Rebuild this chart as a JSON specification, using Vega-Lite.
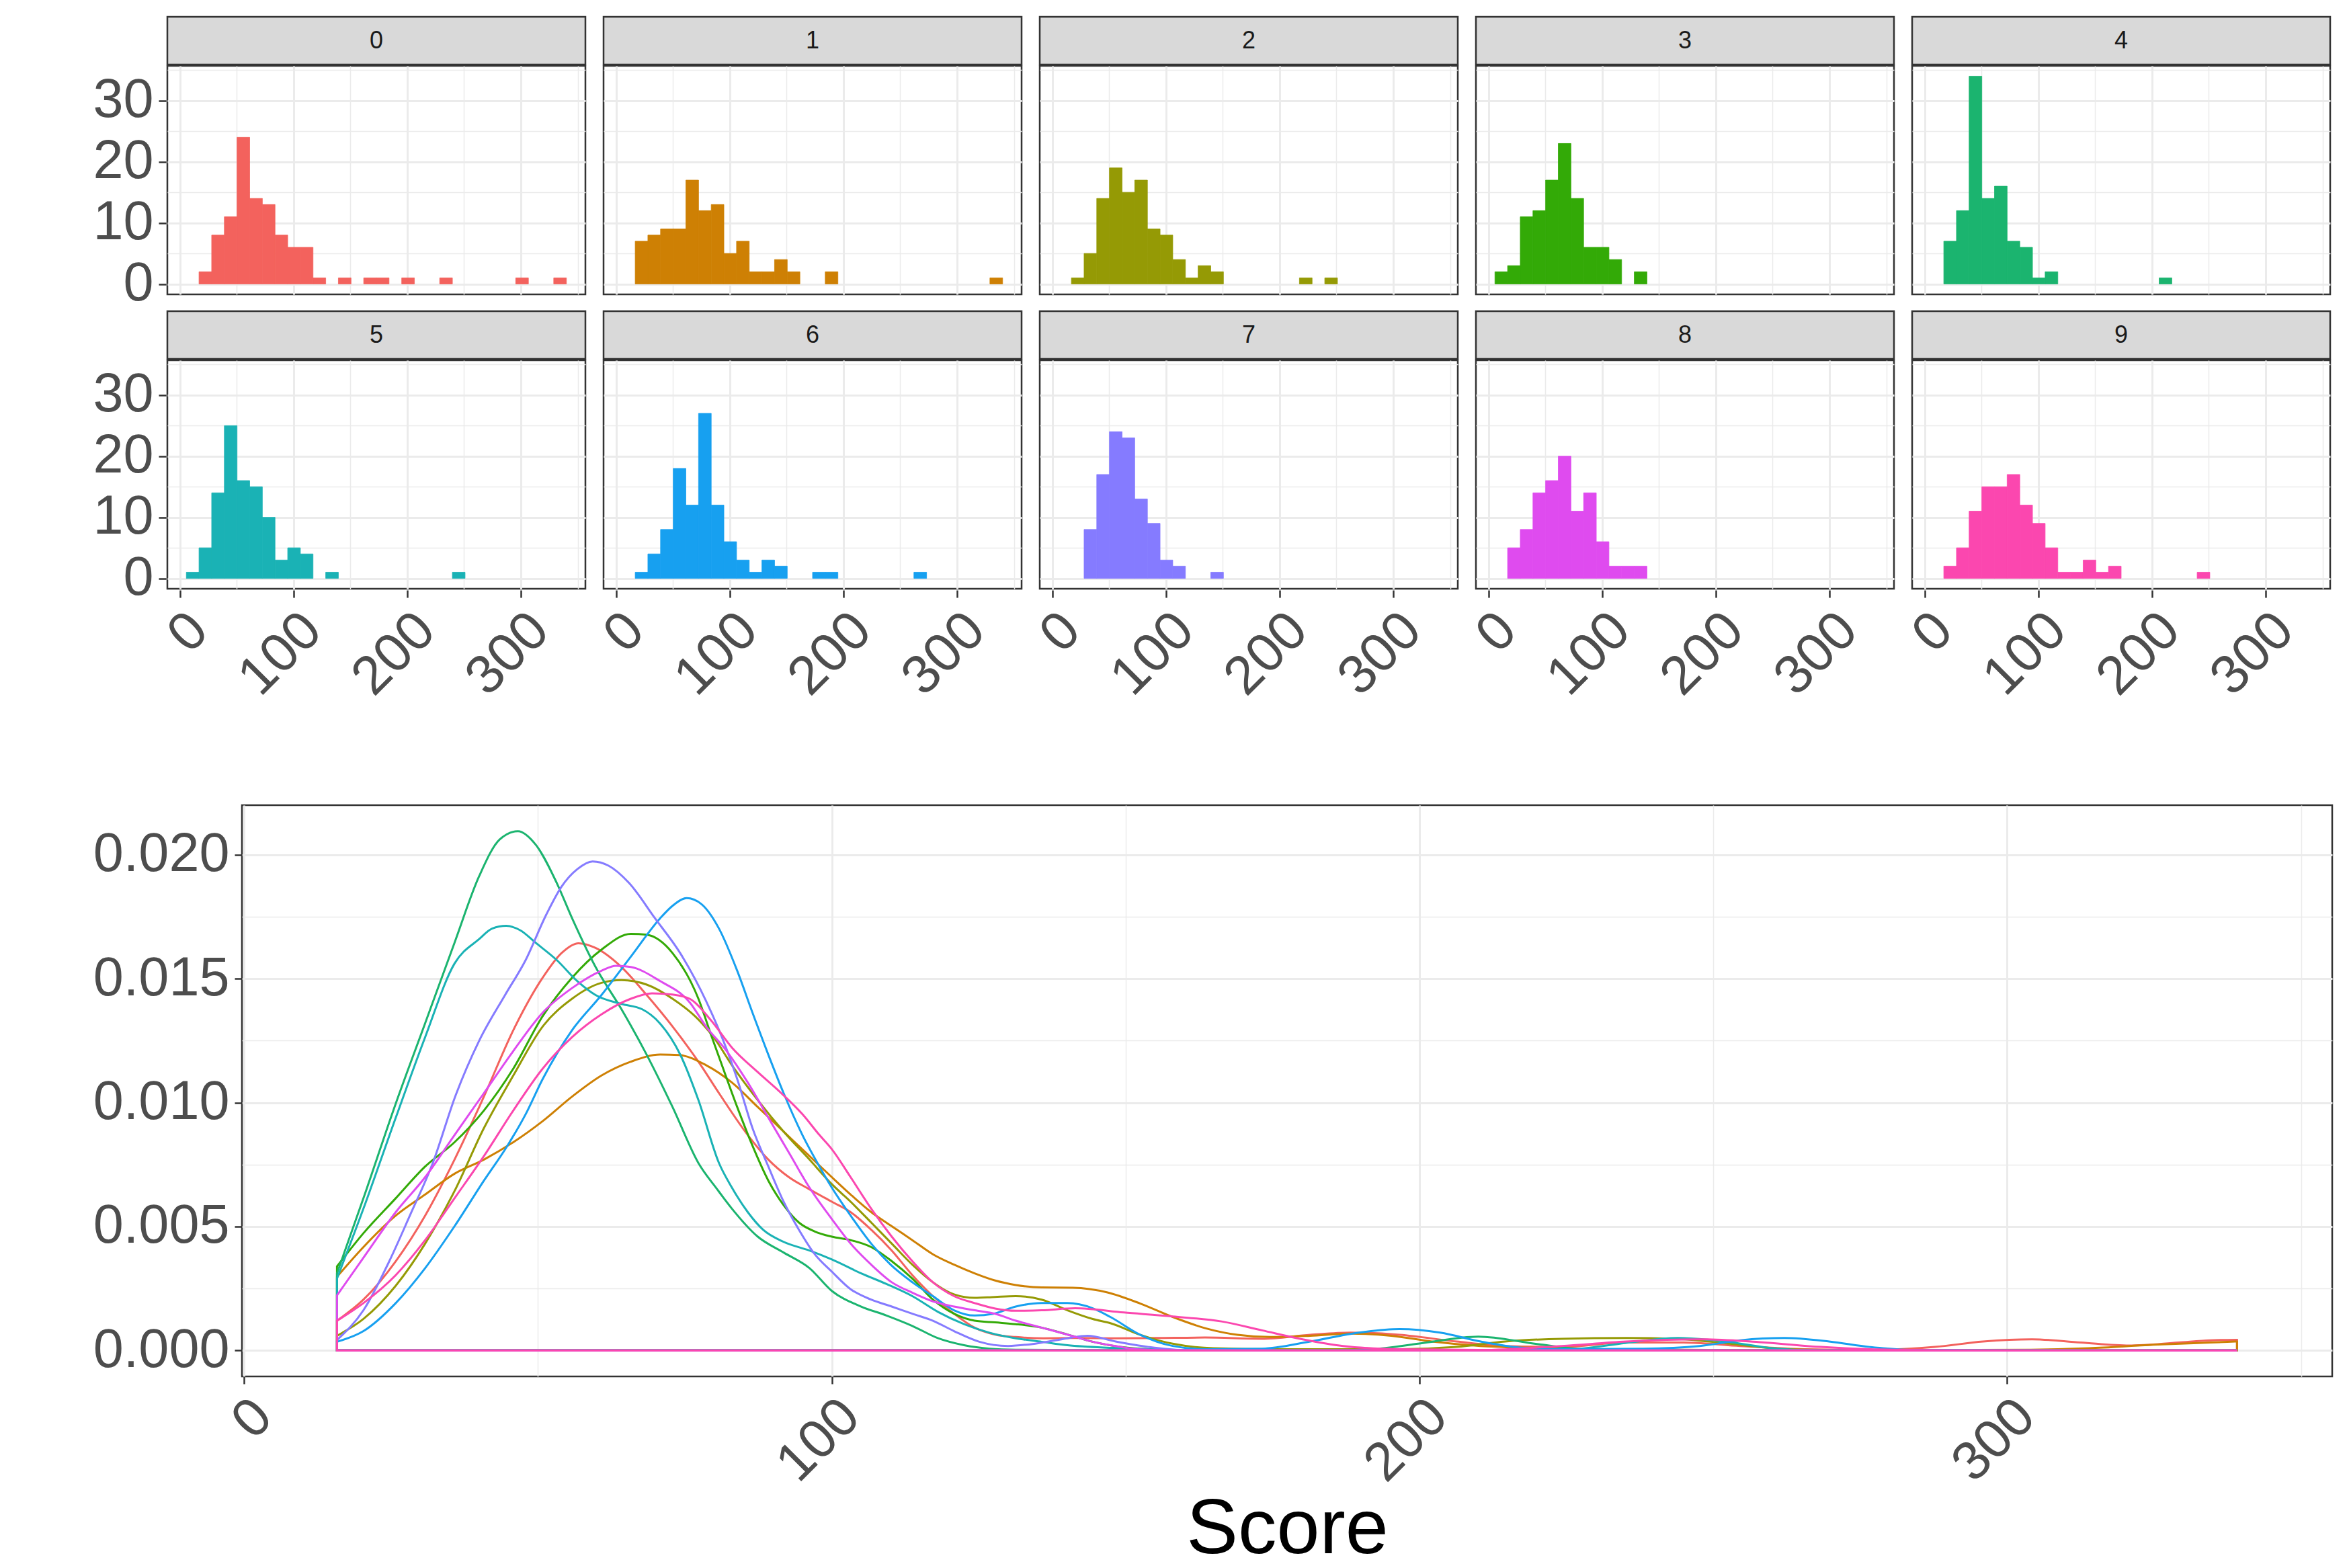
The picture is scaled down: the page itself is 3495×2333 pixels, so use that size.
{
  "$schema": "https://vega.github.io/schema/vega-lite/v6.json",
  "autosize": {"type": "pad"},
  "padding": {"left": 136, "top": 23, "right": 10, "bottom": 0},
  "background": "white",
  "config": {
    "font": "Liberation Sans",
    "view": {"stroke": "#333333", "strokeWidth": 2.5},
    "axis": {
      "domain": false,
      "gridColor": "#EBEBEB",
      "labelColor": "#4D4D4D",
      "labelFont": "Liberation Sans",
      "labelFontSize": 81,
      "labelPadding": 8,
      "labelLimit": 0,
      "labelOverlap": false,
      "labelFlush": false,
      "tickColor": "#333333",
      "tickSize": 11,
      "tickWidth": 2.5
    }
  },
  "datasets": {
    "panels": [{"g": 0}, {"g": 1}, {"g": 2}, {"g": 3}, {"g": 4}, {"g": 5}, {"g": 6}, {"g": 7}, {"g": 8}, {"g": 9}],
    "hist": [
      {"g": 0, "s": 16.72, "e": 27.87, "n": 2}, {"g": 0, "s": 27.87, "e": 39.02, "n": 8}, {"g": 0, "s": 39.02, "e": 50.17, "n": 11},
      {"g": 0, "s": 50.17, "e": 61.32, "n": 24}, {"g": 0, "s": 61.32, "e": 72.47, "n": 14}, {"g": 0, "s": 72.47, "e": 83.62, "n": 13},
      {"g": 0, "s": 83.62, "e": 94.77, "n": 8}, {"g": 0, "s": 94.77, "e": 105.92, "n": 6}, {"g": 0, "s": 105.92, "e": 117.07, "n": 6},
      {"g": 0, "s": 117.07, "e": 128.22, "n": 1}, {"g": 0, "s": 139.37, "e": 150.52, "n": 1}, {"g": 0, "s": 161.67, "e": 172.82, "n": 1},
      {"g": 0, "s": 172.82, "e": 183.97, "n": 1}, {"g": 0, "s": 195.12, "e": 206.27, "n": 1}, {"g": 0, "s": 228.57, "e": 239.72, "n": 1},
      {"g": 0, "s": 295.47, "e": 306.62, "n": 1}, {"g": 0, "s": 328.92, "e": 340.07, "n": 1},
      {"g": 1, "s": 16.72, "e": 27.87, "n": 7}, {"g": 1, "s": 27.87, "e": 39.02, "n": 8}, {"g": 1, "s": 39.02, "e": 50.17, "n": 9},
      {"g": 1, "s": 50.17, "e": 61.32, "n": 9}, {"g": 1, "s": 61.32, "e": 72.47, "n": 17}, {"g": 1, "s": 72.47, "e": 83.62, "n": 12},
      {"g": 1, "s": 83.62, "e": 94.77, "n": 13}, {"g": 1, "s": 94.77, "e": 105.92, "n": 5}, {"g": 1, "s": 105.92, "e": 117.07, "n": 7},
      {"g": 1, "s": 117.07, "e": 128.22, "n": 2}, {"g": 1, "s": 128.22, "e": 139.37, "n": 2}, {"g": 1, "s": 139.37, "e": 150.52, "n": 4},
      {"g": 1, "s": 150.52, "e": 161.67, "n": 2}, {"g": 1, "s": 183.97, "e": 195.12, "n": 2}, {"g": 1, "s": 328.92, "e": 340.07, "n": 1},
      {"g": 2, "s": 16.72, "e": 27.87, "n": 1}, {"g": 2, "s": 27.87, "e": 39.02, "n": 5}, {"g": 2, "s": 39.02, "e": 50.17, "n": 14},
      {"g": 2, "s": 50.17, "e": 61.32, "n": 19}, {"g": 2, "s": 61.32, "e": 72.47, "n": 15}, {"g": 2, "s": 72.47, "e": 83.62, "n": 17},
      {"g": 2, "s": 83.62, "e": 94.77, "n": 9}, {"g": 2, "s": 94.77, "e": 105.92, "n": 8}, {"g": 2, "s": 105.92, "e": 117.07, "n": 4},
      {"g": 2, "s": 117.07, "e": 128.22, "n": 1}, {"g": 2, "s": 128.22, "e": 139.37, "n": 3}, {"g": 2, "s": 139.37, "e": 150.52, "n": 2},
      {"g": 2, "s": 217.42, "e": 228.57, "n": 1}, {"g": 2, "s": 239.72, "e": 250.87, "n": 1},
      {"g": 3, "s": 5.57, "e": 16.72, "n": 2}, {"g": 3, "s": 16.72, "e": 27.87, "n": 3}, {"g": 3, "s": 27.87, "e": 39.02, "n": 11},
      {"g": 3, "s": 39.02, "e": 50.17, "n": 12}, {"g": 3, "s": 50.17, "e": 61.32, "n": 17}, {"g": 3, "s": 61.32, "e": 72.47, "n": 23},
      {"g": 3, "s": 72.47, "e": 83.62, "n": 14}, {"g": 3, "s": 83.62, "e": 94.77, "n": 6}, {"g": 3, "s": 94.77, "e": 105.92, "n": 6},
      {"g": 3, "s": 105.92, "e": 117.07, "n": 4}, {"g": 3, "s": 128.22, "e": 139.37, "n": 2},
      {"g": 4, "s": 16.72, "e": 27.87, "n": 7}, {"g": 4, "s": 27.87, "e": 39.02, "n": 12}, {"g": 4, "s": 39.02, "e": 50.17, "n": 34},
      {"g": 4, "s": 50.17, "e": 61.32, "n": 14}, {"g": 4, "s": 61.32, "e": 72.47, "n": 16}, {"g": 4, "s": 72.47, "e": 83.62, "n": 7},
      {"g": 4, "s": 83.62, "e": 94.77, "n": 6}, {"g": 4, "s": 94.77, "e": 105.92, "n": 1}, {"g": 4, "s": 105.92, "e": 117.07, "n": 2},
      {"g": 4, "s": 206.27, "e": 217.42, "n": 1},
      {"g": 5, "s": 5.57, "e": 16.72, "n": 1}, {"g": 5, "s": 16.72, "e": 27.87, "n": 5}, {"g": 5, "s": 27.87, "e": 39.02, "n": 14},
      {"g": 5, "s": 39.02, "e": 50.17, "n": 25}, {"g": 5, "s": 50.17, "e": 61.32, "n": 16}, {"g": 5, "s": 61.32, "e": 72.47, "n": 15},
      {"g": 5, "s": 72.47, "e": 83.62, "n": 10}, {"g": 5, "s": 83.62, "e": 94.77, "n": 3}, {"g": 5, "s": 94.77, "e": 105.92, "n": 5},
      {"g": 5, "s": 105.92, "e": 117.07, "n": 4}, {"g": 5, "s": 128.22, "e": 139.37, "n": 1}, {"g": 5, "s": 239.72, "e": 250.87, "n": 1},
      {"g": 6, "s": 16.72, "e": 27.87, "n": 1}, {"g": 6, "s": 27.87, "e": 39.02, "n": 4}, {"g": 6, "s": 39.02, "e": 50.17, "n": 8},
      {"g": 6, "s": 50.17, "e": 61.32, "n": 18}, {"g": 6, "s": 61.32, "e": 72.47, "n": 12}, {"g": 6, "s": 72.47, "e": 83.62, "n": 27},
      {"g": 6, "s": 83.62, "e": 94.77, "n": 12}, {"g": 6, "s": 94.77, "e": 105.92, "n": 6}, {"g": 6, "s": 105.92, "e": 117.07, "n": 3},
      {"g": 6, "s": 117.07, "e": 128.22, "n": 1}, {"g": 6, "s": 128.22, "e": 139.37, "n": 3}, {"g": 6, "s": 139.37, "e": 150.52, "n": 2},
      {"g": 6, "s": 172.82, "e": 183.97, "n": 1}, {"g": 6, "s": 183.97, "e": 195.12, "n": 1}, {"g": 6, "s": 262.02, "e": 273.17, "n": 1},
      {"g": 7, "s": 27.87, "e": 39.02, "n": 8}, {"g": 7, "s": 39.02, "e": 50.17, "n": 17}, {"g": 7, "s": 50.17, "e": 61.32, "n": 24},
      {"g": 7, "s": 61.32, "e": 72.47, "n": 23}, {"g": 7, "s": 72.47, "e": 83.62, "n": 13}, {"g": 7, "s": 83.62, "e": 94.77, "n": 9},
      {"g": 7, "s": 94.77, "e": 105.92, "n": 3}, {"g": 7, "s": 105.92, "e": 117.07, "n": 2}, {"g": 7, "s": 139.37, "e": 150.52, "n": 1},
      {"g": 8, "s": 16.72, "e": 27.87, "n": 5}, {"g": 8, "s": 27.87, "e": 39.02, "n": 8}, {"g": 8, "s": 39.02, "e": 50.17, "n": 14},
      {"g": 8, "s": 50.17, "e": 61.32, "n": 16}, {"g": 8, "s": 61.32, "e": 72.47, "n": 20}, {"g": 8, "s": 72.47, "e": 83.62, "n": 11},
      {"g": 8, "s": 83.62, "e": 94.77, "n": 14}, {"g": 8, "s": 94.77, "e": 105.92, "n": 6}, {"g": 8, "s": 105.92, "e": 117.07, "n": 2},
      {"g": 8, "s": 117.07, "e": 128.22, "n": 2}, {"g": 8, "s": 128.22, "e": 139.37, "n": 2},
      {"g": 9, "s": 16.72, "e": 27.87, "n": 2}, {"g": 9, "s": 27.87, "e": 39.02, "n": 5}, {"g": 9, "s": 39.02, "e": 50.17, "n": 11},
      {"g": 9, "s": 50.17, "e": 61.32, "n": 15}, {"g": 9, "s": 61.32, "e": 72.47, "n": 15}, {"g": 9, "s": 72.47, "e": 83.62, "n": 17},
      {"g": 9, "s": 83.62, "e": 94.77, "n": 12}, {"g": 9, "s": 94.77, "e": 105.92, "n": 9}, {"g": 9, "s": 105.92, "e": 117.07, "n": 5},
      {"g": 9, "s": 117.07, "e": 128.22, "n": 1}, {"g": 9, "s": 128.22, "e": 139.37, "n": 1}, {"g": 9, "s": 139.37, "e": 150.52, "n": 3},
      {"g": 9, "s": 150.52, "e": 161.67, "n": 1}, {"g": 9, "s": 161.67, "e": 172.82, "n": 2}, {"g": 9, "s": 239.72, "e": 250.87, "n": 1}
    ],
    "dens": [
      {"g": 0, "x": 15.8, "d": 0.00120}, {"g": 0, "x": 20.3, "d": 0.00205}, {"g": 0, "x": 25.8, "d": 0.00360}, {"g": 0, "x": 30.8, "d": 0.00544},
      {"g": 0, "x": 35.8, "d": 0.00770}, {"g": 0, "x": 40.8, "d": 0.01024}, {"g": 0, "x": 45.8, "d": 0.01292}, {"g": 0, "x": 50.8, "d": 0.01504},
      {"g": 0, "x": 54.0, "d": 0.01603}, {"g": 0, "x": 56.9, "d": 0.01643}, {"g": 0, "x": 59.8, "d": 0.01624}, {"g": 0, "x": 64.2, "d": 0.01547},
      {"g": 0, "x": 68.5, "d": 0.01434}, {"g": 0, "x": 72.9, "d": 0.01307}, {"g": 0, "x": 77.3, "d": 0.01165}, {"g": 0, "x": 80.8, "d": 0.01038},
      {"g": 0, "x": 85.7, "d": 0.00869}, {"g": 0, "x": 89.2, "d": 0.00770}, {"g": 0, "x": 92.7, "d": 0.00699}, {"g": 0, "x": 96.2, "d": 0.00650},
      {"g": 0, "x": 100.0, "d": 0.00600}, {"g": 0, "x": 103.2, "d": 0.00558}, {"g": 0, "x": 106.7, "d": 0.00487}, {"g": 0, "x": 110.2, "d": 0.00403},
      {"g": 0, "x": 113.7, "d": 0.00304}, {"g": 0, "x": 117.2, "d": 0.00219}, {"g": 0, "x": 120.8, "d": 0.00148}, {"g": 0, "x": 124.3, "d": 0.00092},
      {"g": 0, "x": 127.8, "d": 0.00064}, {"g": 0, "x": 131.3, "d": 0.00054}, {"g": 0, "x": 136.0, "d": 0.00049}, {"g": 0, "x": 141.0, "d": 0.00050},
      {"g": 0, "x": 148.0, "d": 0.00049}, {"g": 0, "x": 155.0, "d": 0.00050}, {"g": 0, "x": 163.5, "d": 0.00052}, {"g": 0, "x": 173.2, "d": 0.00047},
      {"g": 0, "x": 181.4, "d": 0.00063}, {"g": 0, "x": 188.3, "d": 0.00072}, {"g": 0, "x": 196.6, "d": 0.00063}, {"g": 0, "x": 206.3, "d": 0.00036},
      {"g": 0, "x": 214.6, "d": 0.00018}, {"g": 0, "x": 224.2, "d": 0.00014}, {"g": 0, "x": 235.2, "d": 0.00032}, {"g": 0, "x": 244.9, "d": 0.00032},
      {"g": 0, "x": 254.6, "d": 0.00018}, {"g": 0, "x": 265.6, "d": 0.00005}, {"g": 0, "x": 276.6, "d": 0.00002}, {"g": 0, "x": 287.7, "d": 0.00014},
      {"g": 0, "x": 295.9, "d": 0.00036}, {"g": 0, "x": 304.2, "d": 0.00045}, {"g": 0, "x": 312.5, "d": 0.00032}, {"g": 0, "x": 320.8, "d": 0.00020},
      {"g": 0, "x": 329.1, "d": 0.00032}, {"g": 0, "x": 334.6, "d": 0.00041}, {"g": 0, "x": 339.1, "d": 0.00043},
      {"g": 1, "x": 15.8, "d": 0.00297}, {"g": 1, "x": 20.3, "d": 0.00417}, {"g": 1, "x": 25.8, "d": 0.00544}, {"g": 1, "x": 30.8, "d": 0.00629},
      {"g": 1, "x": 35.8, "d": 0.00713}, {"g": 1, "x": 40.8, "d": 0.00770}, {"g": 1, "x": 45.8, "d": 0.00840}, {"g": 1, "x": 50.8, "d": 0.00925},
      {"g": 1, "x": 55.8, "d": 0.01024}, {"g": 1, "x": 60.8, "d": 0.01109}, {"g": 1, "x": 65.8, "d": 0.01165}, {"g": 1, "x": 70.8, "d": 0.01194},
      {"g": 1, "x": 74.0, "d": 0.01192}, {"g": 1, "x": 78.6, "d": 0.01151}, {"g": 1, "x": 83.0, "d": 0.01081}, {"g": 1, "x": 87.4, "d": 0.00982},
      {"g": 1, "x": 91.8, "d": 0.00883}, {"g": 1, "x": 96.2, "d": 0.00784}, {"g": 1, "x": 100.0, "d": 0.00699}, {"g": 1, "x": 103.2, "d": 0.00629},
      {"g": 1, "x": 106.7, "d": 0.00558}, {"g": 1, "x": 110.2, "d": 0.00501}, {"g": 1, "x": 113.7, "d": 0.00445}, {"g": 1, "x": 117.2, "d": 0.00388},
      {"g": 1, "x": 120.8, "d": 0.00346}, {"g": 1, "x": 124.3, "d": 0.00311}, {"g": 1, "x": 127.8, "d": 0.00282}, {"g": 1, "x": 131.3, "d": 0.00264},
      {"g": 1, "x": 135.7, "d": 0.00254}, {"g": 1, "x": 141.0, "d": 0.00253}, {"g": 1, "x": 146.9, "d": 0.00234}, {"g": 1, "x": 152.5, "d": 0.00189},
      {"g": 1, "x": 158.0, "d": 0.00135}, {"g": 1, "x": 163.5, "d": 0.00090}, {"g": 1, "x": 169.0, "d": 0.00063}, {"g": 1, "x": 174.6, "d": 0.00054},
      {"g": 1, "x": 181.4, "d": 0.00059}, {"g": 1, "x": 188.3, "d": 0.00068}, {"g": 1, "x": 195.2, "d": 0.00059}, {"g": 1, "x": 202.1, "d": 0.00036},
      {"g": 1, "x": 210.4, "d": 0.00018}, {"g": 1, "x": 218.7, "d": 0.00011}, {"g": 1, "x": 231.1, "d": 0.00005}, {"g": 1, "x": 250.0, "d": 0.00002},
      {"g": 1, "x": 280.0, "d": 0.00001}, {"g": 1, "x": 304.0, "d": 0.00003}, {"g": 1, "x": 313.9, "d": 0.00009}, {"g": 1, "x": 324.9, "d": 0.00023},
      {"g": 1, "x": 334.6, "d": 0.00032}, {"g": 1, "x": 339.1, "d": 0.00036},
      {"g": 2, "x": 15.8, "d": 0.00059}, {"g": 2, "x": 20.3, "d": 0.00127}, {"g": 2, "x": 25.8, "d": 0.00261}, {"g": 2, "x": 30.8, "d": 0.00431},
      {"g": 2, "x": 35.8, "d": 0.00643}, {"g": 2, "x": 40.8, "d": 0.00897}, {"g": 2, "x": 45.8, "d": 0.01109}, {"g": 2, "x": 50.8, "d": 0.01307},
      {"g": 2, "x": 55.8, "d": 0.01419}, {"g": 2, "x": 60.8, "d": 0.01483}, {"g": 2, "x": 64.2, "d": 0.01494}, {"g": 2, "x": 68.5, "d": 0.01476},
      {"g": 2, "x": 72.9, "d": 0.01419}, {"g": 2, "x": 77.3, "d": 0.01335}, {"g": 2, "x": 80.0, "d": 0.01260}, {"g": 2, "x": 83.0, "d": 0.01151},
      {"g": 2, "x": 87.4, "d": 0.01010}, {"g": 2, "x": 91.8, "d": 0.00883}, {"g": 2, "x": 96.2, "d": 0.00770}, {"g": 2, "x": 100.0, "d": 0.00671},
      {"g": 2, "x": 103.2, "d": 0.00600}, {"g": 2, "x": 106.7, "d": 0.00516}, {"g": 2, "x": 110.2, "d": 0.00431}, {"g": 2, "x": 113.7, "d": 0.00346},
      {"g": 2, "x": 117.2, "d": 0.00275}, {"g": 2, "x": 120.8, "d": 0.00226}, {"g": 2, "x": 124.3, "d": 0.00212}, {"g": 2, "x": 127.8, "d": 0.00216},
      {"g": 2, "x": 131.3, "d": 0.00219}, {"g": 2, "x": 135.7, "d": 0.00205}, {"g": 2, "x": 140.1, "d": 0.00162}, {"g": 2, "x": 144.4, "d": 0.00127},
      {"g": 2, "x": 147.4, "d": 0.00110}, {"g": 2, "x": 152.5, "d": 0.00063}, {"g": 2, "x": 158.0, "d": 0.00027}, {"g": 2, "x": 164.9, "d": 0.00009},
      {"g": 2, "x": 175.9, "d": 0.00005}, {"g": 2, "x": 196.6, "d": 0.00005}, {"g": 2, "x": 206.3, "d": 0.00014}, {"g": 2, "x": 214.6, "d": 0.00036},
      {"g": 2, "x": 224.2, "d": 0.00047}, {"g": 2, "x": 235.2, "d": 0.00050}, {"g": 2, "x": 243.5, "d": 0.00047}, {"g": 2, "x": 252.8, "d": 0.00027},
      {"g": 2, "x": 260.0, "d": 0.00009}, {"g": 2, "x": 268.0, "d": 0.00002}, {"g": 2, "x": 290.0, "d": 0.0}, {"g": 2, "x": 339.1, "d": 0.0},
      {"g": 3, "x": 15.8, "d": 0.00339}, {"g": 3, "x": 20.3, "d": 0.00473}, {"g": 3, "x": 25.8, "d": 0.00614}, {"g": 3, "x": 30.8, "d": 0.00742},
      {"g": 3, "x": 35.8, "d": 0.00840}, {"g": 3, "x": 40.8, "d": 0.00968}, {"g": 3, "x": 45.8, "d": 0.01137}, {"g": 3, "x": 50.8, "d": 0.01349},
      {"g": 3, "x": 55.8, "d": 0.01504}, {"g": 3, "x": 60.8, "d": 0.01617}, {"g": 3, "x": 65.8, "d": 0.01681}, {"g": 3, "x": 68.5, "d": 0.01677},
      {"g": 3, "x": 72.9, "d": 0.01603}, {"g": 3, "x": 77.3, "d": 0.01419}, {"g": 3, "x": 79.5, "d": 0.01270}, {"g": 3, "x": 81.3, "d": 0.01151},
      {"g": 3, "x": 83.9, "d": 0.00982}, {"g": 3, "x": 86.5, "d": 0.00826}, {"g": 3, "x": 89.2, "d": 0.00685}, {"g": 3, "x": 91.8, "d": 0.00586},
      {"g": 3, "x": 94.4, "d": 0.00516}, {"g": 3, "x": 97.1, "d": 0.00480}, {"g": 3, "x": 100.0, "d": 0.00459}, {"g": 3, "x": 103.2, "d": 0.00445},
      {"g": 3, "x": 106.7, "d": 0.00417}, {"g": 3, "x": 110.2, "d": 0.00360}, {"g": 3, "x": 113.7, "d": 0.00290}, {"g": 3, "x": 117.2, "d": 0.00205},
      {"g": 3, "x": 120.8, "d": 0.00148}, {"g": 3, "x": 124.3, "d": 0.00120}, {"g": 3, "x": 127.8, "d": 0.00113}, {"g": 3, "x": 131.3, "d": 0.00106},
      {"g": 3, "x": 135.7, "d": 0.00092}, {"g": 3, "x": 140.1, "d": 0.00064}, {"g": 3, "x": 144.4, "d": 0.00035}, {"g": 3, "x": 148.0, "d": 0.00018},
      {"g": 3, "x": 153.0, "d": 0.00006}, {"g": 3, "x": 160.0, "d": 0.00001}, {"g": 3, "x": 180.0, "d": 0.0}, {"g": 3, "x": 339.1, "d": 0.0},
      {"g": 4, "x": 15.8, "d": 0.00311}, {"g": 4, "x": 20.3, "d": 0.00614}, {"g": 4, "x": 25.8, "d": 0.00996}, {"g": 4, "x": 30.8, "d": 0.01320},
      {"g": 4, "x": 35.8, "d": 0.01645}, {"g": 4, "x": 40.0, "d": 0.01914}, {"g": 4, "x": 43.5, "d": 0.02062}, {"g": 4, "x": 46.6, "d": 0.02095},
      {"g": 4, "x": 49.6, "d": 0.02041}, {"g": 4, "x": 53.2, "d": 0.01886}, {"g": 4, "x": 55.8, "d": 0.01744}, {"g": 4, "x": 59.8, "d": 0.01547},
      {"g": 4, "x": 64.2, "d": 0.01377}, {"g": 4, "x": 68.5, "d": 0.01193}, {"g": 4, "x": 72.9, "d": 0.00982}, {"g": 4, "x": 77.3, "d": 0.00756},
      {"g": 4, "x": 80.5, "d": 0.00650}, {"g": 4, "x": 83.0, "d": 0.00572}, {"g": 4, "x": 87.4, "d": 0.00459}, {"g": 4, "x": 91.8, "d": 0.00395},
      {"g": 4, "x": 96.2, "d": 0.00332}, {"g": 4, "x": 100.0, "d": 0.00240}, {"g": 4, "x": 105.0, "d": 0.00177}, {"g": 4, "x": 109.3, "d": 0.00141},
      {"g": 4, "x": 113.7, "d": 0.00099}, {"g": 4, "x": 118.1, "d": 0.00049}, {"g": 4, "x": 122.5, "d": 0.00021}, {"g": 4, "x": 126.9, "d": 0.00007},
      {"g": 4, "x": 131.3, "d": 0.00003}, {"g": 4, "x": 150.0, "d": 0.0}, {"g": 4, "x": 185.0, "d": 0.0}, {"g": 4, "x": 192.0, "d": 0.00005},
      {"g": 4, "x": 200.0, "d": 0.00028}, {"g": 4, "x": 210.0, "d": 0.00056}, {"g": 4, "x": 220.0, "d": 0.00026}, {"g": 4, "x": 228.0, "d": 0.00005},
      {"g": 4, "x": 240.0, "d": 0.0}, {"g": 4, "x": 339.1, "d": 0.0},
      {"g": 5, "x": 15.8, "d": 0.00290}, {"g": 5, "x": 20.3, "d": 0.00572}, {"g": 5, "x": 25.8, "d": 0.00939}, {"g": 5, "x": 30.8, "d": 0.01264},
      {"g": 5, "x": 35.8, "d": 0.01561}, {"g": 5, "x": 40.0, "d": 0.01660}, {"g": 5, "x": 42.2, "d": 0.01702}, {"g": 5, "x": 44.6, "d": 0.01713},
      {"g": 5, "x": 47.0, "d": 0.01695}, {"g": 5, "x": 49.6, "d": 0.01645}, {"g": 5, "x": 53.2, "d": 0.01575}, {"g": 5, "x": 56.7, "d": 0.01490},
      {"g": 5, "x": 59.8, "d": 0.01434}, {"g": 5, "x": 64.2, "d": 0.01398}, {"g": 5, "x": 67.7, "d": 0.01377}, {"g": 5, "x": 70.7, "d": 0.01321},
      {"g": 5, "x": 74.2, "d": 0.01194}, {"g": 5, "x": 77.3, "d": 0.01010}, {"g": 5, "x": 80.8, "d": 0.00756}, {"g": 5, "x": 83.0, "d": 0.00657},
      {"g": 5, "x": 85.7, "d": 0.00558}, {"g": 5, "x": 88.3, "d": 0.00487}, {"g": 5, "x": 91.8, "d": 0.00438}, {"g": 5, "x": 96.2, "d": 0.00403},
      {"g": 5, "x": 100.0, "d": 0.00367}, {"g": 5, "x": 105.0, "d": 0.00311}, {"g": 5, "x": 109.3, "d": 0.00268}, {"g": 5, "x": 113.7, "d": 0.00219},
      {"g": 5, "x": 118.1, "d": 0.00155}, {"g": 5, "x": 122.5, "d": 0.00106}, {"g": 5, "x": 126.9, "d": 0.00071}, {"g": 5, "x": 131.3, "d": 0.00049},
      {"g": 5, "x": 135.7, "d": 0.00035}, {"g": 5, "x": 140.1, "d": 0.00021}, {"g": 5, "x": 148.0, "d": 0.00010}, {"g": 5, "x": 155.0, "d": 0.00004},
      {"g": 5, "x": 165.0, "d": 0.0}, {"g": 5, "x": 222.0, "d": 0.0}, {"g": 5, "x": 228.0, "d": 0.00008}, {"g": 5, "x": 235.0, "d": 0.00030},
      {"g": 5, "x": 244.0, "d": 0.00050}, {"g": 5, "x": 252.0, "d": 0.00036}, {"g": 5, "x": 260.0, "d": 0.00009}, {"g": 5, "x": 268.0, "d": 0.0},
      {"g": 5, "x": 339.1, "d": 0.0},
      {"g": 6, "x": 15.8, "d": 0.00035}, {"g": 6, "x": 20.3, "d": 0.00078}, {"g": 6, "x": 25.8, "d": 0.00191}, {"g": 6, "x": 30.8, "d": 0.00332},
      {"g": 6, "x": 35.8, "d": 0.00501}, {"g": 6, "x": 40.8, "d": 0.00685}, {"g": 6, "x": 44.8, "d": 0.00826}, {"g": 6, "x": 47.9, "d": 0.00953},
      {"g": 6, "x": 50.8, "d": 0.01095}, {"g": 6, "x": 55.8, "d": 0.01292}, {"g": 6, "x": 60.8, "d": 0.01434}, {"g": 6, "x": 65.8, "d": 0.01589},
      {"g": 6, "x": 70.8, "d": 0.01744}, {"g": 6, "x": 72.9, "d": 0.01794}, {"g": 6, "x": 75.3, "d": 0.01825}, {"g": 6, "x": 77.8, "d": 0.01801},
      {"g": 6, "x": 80.8, "d": 0.01702}, {"g": 6, "x": 83.9, "d": 0.01532}, {"g": 6, "x": 86.5, "d": 0.01363}, {"g": 6, "x": 89.2, "d": 0.01193},
      {"g": 6, "x": 91.8, "d": 0.01038}, {"g": 6, "x": 95.0, "d": 0.00869}, {"g": 6, "x": 97.9, "d": 0.00742}, {"g": 6, "x": 100.0, "d": 0.00657},
      {"g": 6, "x": 103.2, "d": 0.00544}, {"g": 6, "x": 106.7, "d": 0.00431}, {"g": 6, "x": 110.0, "d": 0.00346}, {"g": 6, "x": 113.7, "d": 0.00275},
      {"g": 6, "x": 117.2, "d": 0.00219}, {"g": 6, "x": 120.8, "d": 0.00162}, {"g": 6, "x": 124.3, "d": 0.00141}, {"g": 6, "x": 127.5, "d": 0.00148},
      {"g": 6, "x": 131.3, "d": 0.00177}, {"g": 6, "x": 135.7, "d": 0.00191}, {"g": 6, "x": 140.1, "d": 0.00191}, {"g": 6, "x": 144.4, "d": 0.00170},
      {"g": 6, "x": 147.4, "d": 0.00135}, {"g": 6, "x": 152.5, "d": 0.00063}, {"g": 6, "x": 158.0, "d": 0.00018}, {"g": 6, "x": 163.5, "d": 0.00005},
      {"g": 6, "x": 173.2, "d": 0.00007}, {"g": 6, "x": 181.4, "d": 0.00036}, {"g": 6, "x": 189.7, "d": 0.00072}, {"g": 6, "x": 196.6, "d": 0.00086},
      {"g": 6, "x": 203.5, "d": 0.00072}, {"g": 6, "x": 210.4, "d": 0.00036}, {"g": 6, "x": 217.3, "d": 0.00011}, {"g": 6, "x": 224.2, "d": 0.00005},
      {"g": 6, "x": 238.0, "d": 0.00007}, {"g": 6, "x": 247.7, "d": 0.00018}, {"g": 6, "x": 254.6, "d": 0.00041}, {"g": 6, "x": 262.1, "d": 0.00050},
      {"g": 6, "x": 269.7, "d": 0.00036}, {"g": 6, "x": 276.6, "d": 0.00014}, {"g": 6, "x": 283.5, "d": 0.00002}, {"g": 6, "x": 300.0, "d": 0.0},
      {"g": 6, "x": 339.1, "d": 0.0},
      {"g": 7, "x": 15.8, "d": 0.00042}, {"g": 7, "x": 20.3, "d": 0.00162}, {"g": 7, "x": 24.7, "d": 0.00360}, {"g": 7, "x": 28.2, "d": 0.00544},
      {"g": 7, "x": 32.1, "d": 0.00756}, {"g": 7, "x": 36.0, "d": 0.01030}, {"g": 7, "x": 40.0, "d": 0.01250}, {"g": 7, "x": 44.4, "d": 0.01434},
      {"g": 7, "x": 47.9, "d": 0.01575}, {"g": 7, "x": 51.4, "d": 0.01758}, {"g": 7, "x": 54.0, "d": 0.01871}, {"g": 7, "x": 56.7, "d": 0.01942},
      {"g": 7, "x": 59.3, "d": 0.01973}, {"g": 7, "x": 62.0, "d": 0.01956}, {"g": 7, "x": 65.5, "d": 0.01886}, {"g": 7, "x": 69.9, "d": 0.01744},
      {"g": 7, "x": 74.2, "d": 0.01603}, {"g": 7, "x": 78.6, "d": 0.01410}, {"g": 7, "x": 81.3, "d": 0.01264}, {"g": 7, "x": 83.9, "d": 0.01095},
      {"g": 7, "x": 86.5, "d": 0.00897}, {"g": 7, "x": 89.2, "d": 0.00742}, {"g": 7, "x": 91.8, "d": 0.00600}, {"g": 7, "x": 94.4, "d": 0.00487},
      {"g": 7, "x": 97.1, "d": 0.00388}, {"g": 7, "x": 100.0, "d": 0.00318}, {"g": 7, "x": 103.2, "d": 0.00247}, {"g": 7, "x": 106.7, "d": 0.00205},
      {"g": 7, "x": 110.2, "d": 0.00177}, {"g": 7, "x": 113.7, "d": 0.00148}, {"g": 7, "x": 117.2, "d": 0.00120}, {"g": 7, "x": 120.8, "d": 0.00078},
      {"g": 7, "x": 125.1, "d": 0.00035}, {"g": 7, "x": 130.0, "d": 0.00018}, {"g": 7, "x": 134.8, "d": 0.00028}, {"g": 7, "x": 140.1, "d": 0.00049},
      {"g": 7, "x": 143.5, "d": 0.00059}, {"g": 7, "x": 148.3, "d": 0.00036}, {"g": 7, "x": 153.9, "d": 0.00014}, {"g": 7, "x": 159.4, "d": 0.00002},
      {"g": 7, "x": 170.0, "d": 0.0}, {"g": 7, "x": 339.1, "d": 0.0},
      {"g": 8, "x": 15.8, "d": 0.00222}, {"g": 8, "x": 20.3, "d": 0.00374}, {"g": 8, "x": 25.8, "d": 0.00558}, {"g": 8, "x": 30.8, "d": 0.00699},
      {"g": 8, "x": 35.8, "d": 0.00869}, {"g": 8, "x": 40.8, "d": 0.01038}, {"g": 8, "x": 45.8, "d": 0.01208}, {"g": 8, "x": 50.8, "d": 0.01363},
      {"g": 8, "x": 55.8, "d": 0.01462}, {"g": 8, "x": 60.8, "d": 0.01532}, {"g": 8, "x": 63.3, "d": 0.01552}, {"g": 8, "x": 65.8, "d": 0.01547},
      {"g": 8, "x": 70.8, "d": 0.01490}, {"g": 8, "x": 75.8, "d": 0.01405}, {"g": 8, "x": 78.6, "d": 0.01307}, {"g": 8, "x": 82.1, "d": 0.01208},
      {"g": 8, "x": 85.7, "d": 0.01081}, {"g": 8, "x": 89.2, "d": 0.00939}, {"g": 8, "x": 92.7, "d": 0.00798}, {"g": 8, "x": 96.2, "d": 0.00657},
      {"g": 8, "x": 100.0, "d": 0.00530}, {"g": 8, "x": 103.2, "d": 0.00431}, {"g": 8, "x": 106.7, "d": 0.00346}, {"g": 8, "x": 110.2, "d": 0.00275},
      {"g": 8, "x": 113.7, "d": 0.00233}, {"g": 8, "x": 117.2, "d": 0.00198}, {"g": 8, "x": 120.8, "d": 0.00177}, {"g": 8, "x": 124.3, "d": 0.00162},
      {"g": 8, "x": 127.8, "d": 0.00148}, {"g": 8, "x": 131.3, "d": 0.00120}, {"g": 8, "x": 135.7, "d": 0.00092}, {"g": 8, "x": 140.1, "d": 0.00064},
      {"g": 8, "x": 144.4, "d": 0.00035}, {"g": 8, "x": 147.4, "d": 0.00021}, {"g": 8, "x": 152.0, "d": 0.00005}, {"g": 8, "x": 160.0, "d": 0.0},
      {"g": 8, "x": 339.1, "d": 0.0},
      {"g": 9, "x": 15.8, "d": 0.00120}, {"g": 9, "x": 20.3, "d": 0.00191}, {"g": 9, "x": 25.8, "d": 0.00304}, {"g": 9, "x": 30.8, "d": 0.00445},
      {"g": 9, "x": 35.8, "d": 0.00614}, {"g": 9, "x": 40.8, "d": 0.00784}, {"g": 9, "x": 45.8, "d": 0.00968}, {"g": 9, "x": 50.8, "d": 0.01137},
      {"g": 9, "x": 55.8, "d": 0.01264}, {"g": 9, "x": 60.8, "d": 0.01356}, {"g": 9, "x": 65.8, "d": 0.01419}, {"g": 9, "x": 69.4, "d": 0.01441},
      {"g": 9, "x": 72.9, "d": 0.01436}, {"g": 9, "x": 75.8, "d": 0.01419}, {"g": 9, "x": 79.5, "d": 0.01330}, {"g": 9, "x": 83.0, "d": 0.01222},
      {"g": 9, "x": 87.4, "d": 0.01123}, {"g": 9, "x": 91.4, "d": 0.01038}, {"g": 9, "x": 95.0, "d": 0.00953}, {"g": 9, "x": 97.9, "d": 0.00869},
      {"g": 9, "x": 100.0, "d": 0.00812}, {"g": 9, "x": 103.2, "d": 0.00699}, {"g": 9, "x": 106.7, "d": 0.00572}, {"g": 9, "x": 110.2, "d": 0.00459},
      {"g": 9, "x": 113.7, "d": 0.00360}, {"g": 9, "x": 117.2, "d": 0.00275}, {"g": 9, "x": 120.8, "d": 0.00219}, {"g": 9, "x": 124.3, "d": 0.00191},
      {"g": 9, "x": 127.8, "d": 0.00169}, {"g": 9, "x": 131.3, "d": 0.00160}, {"g": 9, "x": 135.7, "d": 0.00162}, {"g": 9, "x": 141.4, "d": 0.00170},
      {"g": 9, "x": 149.7, "d": 0.00153}, {"g": 9, "x": 158.0, "d": 0.00137}, {"g": 9, "x": 166.3, "d": 0.00117}, {"g": 9, "x": 173.2, "d": 0.00081},
      {"g": 9, "x": 180.1, "d": 0.00045}, {"g": 9, "x": 187.0, "d": 0.00018}, {"g": 9, "x": 196.6, "d": 0.00005}, {"g": 9, "x": 210.4, "d": 0.00002},
      {"g": 9, "x": 224.2, "d": 0.00018}, {"g": 9, "x": 235.2, "d": 0.00036}, {"g": 9, "x": 247.7, "d": 0.00045}, {"g": 9, "x": 258.7, "d": 0.00032},
      {"g": 9, "x": 268.3, "d": 0.00014}, {"g": 9, "x": 276.6, "d": 0.00005}, {"g": 9, "x": 290.0, "d": 0.0}, {"g": 9, "x": 339.1, "d": 0.0}
    ]
  },
  "spacing": 146,
  "vconcat": [
    {
      "spacing": 0,
      "hconcat": [
        {"data": {"values": []}, "width": 1, "height": 1, "view": {"stroke": null}, "mark": "text"},
        {
          "spacing": -11,
          "vconcat": [
            {
              "spacing": -3,
              "vconcat": [
                {
                  "data": {"name": "panels"},
                  "transform": [{"filter": "datum.g < 5"}],
                  "facet": {"column": {"field": "g", "type": "ordinal", "header": null}},
                  "spacing": 23,
                  "spec": {
                    "width": 622,
                    "height": 71,
                    "view": {"fill": "#D9D9D9", "stroke": "#333333", "strokeWidth": 2.5},
                    "mark": {"type": "text", "fontSize": 36, "color": "#1A1A1A", "font": "Liberation Sans"},
                    "encoding": {"text": {"field": "g", "type": "nominal"}}
                  }
                },
                {
                  "data": {"name": "hist"},
                  "transform": [{"filter": "datum.g < 5"}],
                  "facet": {"column": {"field": "g", "type": "ordinal", "header": null}},
                  "spacing": 23,
                  "spec": {
                    "width": 622,
                    "height": 340,
                    "mark": {"type": "rect", "strokeWidth": 0.8},
                    "encoding": {
                      "x": {
                        "field": "s", "type": "quantitative",
                        "scale": {"domain": [-11.15, 356.8], "nice": false, "zero": false},
                        "axis": {
                          "title": null, "values": [0, 50, 100, 150, 200, 250, 300, 350],
                          "gridWidth": {"condition": {"test": "datum.value % 100 === 0", "value": 3}, "value": 1.5},
                          "labels": false, "ticks": false
                        }
                      },
                      "x2": {"field": "e"},
                      "y": {
                        "field": "n", "type": "quantitative",
                        "scale": {"domain": [-1.7, 35.7], "nice": false},
                        "axis": {
                          "title": null, "values": [0, 5, 10, 15, 20, 25, 30, 35],
                          "gridWidth": {"condition": {"test": "datum.value % 10 === 0", "value": 3}, "value": 1.5},
                          "labelExpr": "datum.value % 10 === 0 ? datum.label : ''",
                          "labelFontSize": {"condition": {"test": "datum.value % 10 === 0", "value": 81}, "value": 0},
                          "tickOpacity": {"condition": {"test": "datum.value % 10 === 0", "value": 1}, "value": 0}
                        }
                      },
                      "y2": {"datum": 0},
                      "color": {
                        "field": "g", "type": "nominal", "legend": null,
                        "scale": {"domain": [0, 1, 2, 3, 4, 5, 6, 7, 8, 9], "range": ["#F3625D", "#CE8004", "#959A05", "#33AA07", "#1BB46F", "#1AB2B5", "#17A0F0", "#857BFF", "#DF4BEF", "#FB47AF"]}
                      },
                      "stroke": {
                        "field": "g", "type": "nominal", "legend": null,
                        "scale": {"domain": [0, 1, 2, 3, 4, 5, 6, 7, 8, 9], "range": ["#F3625D", "#CE8004", "#959A05", "#33AA07", "#1BB46F", "#1AB2B5", "#17A0F0", "#857BFF", "#DF4BEF", "#FB47AF"]}
                      }
                    }
                  }
                }
              ]
            },
            {
              "spacing": -3,
              "vconcat": [
                {
                  "data": {"name": "panels"},
                  "transform": [{"filter": "datum.g >= 5"}],
                  "facet": {"column": {"field": "g", "type": "ordinal", "header": null}},
                  "spacing": 23,
                  "spec": {
                    "width": 622,
                    "height": 71,
                    "view": {"fill": "#D9D9D9", "stroke": "#333333", "strokeWidth": 2.5},
                    "mark": {"type": "text", "fontSize": 36, "color": "#1A1A1A", "font": "Liberation Sans"},
                    "encoding": {"text": {"field": "g", "type": "nominal"}}
                  }
                },
                {
                  "data": {"name": "hist"},
                  "transform": [{"filter": "datum.g >= 5"}],
                  "facet": {"column": {"field": "g", "type": "ordinal", "header": null}},
                  "spacing": 23,
                  "spec": {
                    "width": 622,
                    "height": 340,
                    "mark": {"type": "rect", "strokeWidth": 0.8},
                    "encoding": {
                      "x": {
                        "field": "s", "type": "quantitative",
                        "scale": {"domain": [-11.15, 356.8], "nice": false, "zero": false},
                        "axis": {
                          "title": null, "values": [0, 50, 100, 150, 200, 250, 300, 350],
                          "gridWidth": {"condition": {"test": "datum.value % 100 === 0", "value": 3}, "value": 1.5},
                          "labelExpr": "datum.value % 100 === 0 ? datum.label : ''",
                          "labelFontSize": {"condition": {"test": "datum.value % 100 === 0", "value": 81}, "value": 0},
                          "labelAngle": -45, "labelAlign": "right", "labelBaseline": "top",
                          "tickOpacity": {"condition": {"test": "datum.value % 100 === 0", "value": 1}, "value": 0}
                        }
                      },
                      "x2": {"field": "e"},
                      "y": {
                        "field": "n", "type": "quantitative",
                        "scale": {"domain": [-1.7, 35.7], "nice": false},
                        "axis": {
                          "title": null, "values": [0, 5, 10, 15, 20, 25, 30, 35],
                          "gridWidth": {"condition": {"test": "datum.value % 10 === 0", "value": 3}, "value": 1.5},
                          "labelExpr": "datum.value % 10 === 0 ? datum.label : ''",
                          "labelFontSize": {"condition": {"test": "datum.value % 10 === 0", "value": 81}, "value": 0},
                          "tickOpacity": {"condition": {"test": "datum.value % 10 === 0", "value": 1}, "value": 0}
                        }
                      },
                      "y2": {"datum": 0},
                      "color": {
                        "field": "g", "type": "nominal", "legend": null,
                        "scale": {"domain": [0, 1, 2, 3, 4, 5, 6, 7, 8, 9], "range": ["#F3625D", "#CE8004", "#959A05", "#33AA07", "#1BB46F", "#1AB2B5", "#17A0F0", "#857BFF", "#DF4BEF", "#FB47AF"]}
                      },
                      "stroke": {
                        "field": "g", "type": "nominal", "legend": null,
                        "scale": {"domain": [0, 1, 2, 3, 4, 5, 6, 7, 8, 9], "range": ["#F3625D", "#CE8004", "#959A05", "#33AA07", "#1BB46F", "#1AB2B5", "#17A0F0", "#857BFF", "#DF4BEF", "#FB47AF"]}
                      }
                    }
                  }
                }
              ]
            }
          ]
        }
      ]
    },
    {
      "spacing": 0,
      "hconcat": [
        {"data": {"values": []}, "width": 1, "height": 1, "view": {"stroke": null}, "mark": "text"},
        {
          "data": {"name": "dens"},
          "width": 3110,
          "height": 850,
          "mark": {"type": "area", "filled": false, "strokeWidth": 3, "interpolate": "monotone"},
          "encoding": {
            "x": {
              "field": "x", "type": "quantitative",
              "scale": {"domain": [-0.37, 355.3], "nice": false, "zero": false},
              "axis": {
                "title": "Score", "titleFontSize": 115, "titleColor": "#000000", "titleFontWeight": "normal", "titlePadding": 0,
                "titleFont": "Liberation Sans",
                "values": [0, 50, 100, 150, 200, 250, 300, 350],
                "gridWidth": {"condition": {"test": "datum.value % 100 === 0", "value": 3}, "value": 1.5},
                "labelExpr": "datum.value % 100 === 0 ? datum.label : ''",
                "labelFontSize": {"condition": {"test": "datum.value % 100 === 0", "value": 81}, "value": 0},
                "labelAngle": -45, "labelAlign": "right", "labelBaseline": "top",
                "tickOpacity": {"condition": {"test": "datum.value % 100 === 0", "value": 1}, "value": 0}
              }
            },
            "y": {
              "field": "d", "type": "quantitative", "stack": null,
              "scale": {"domain": [-0.00105, 0.022], "nice": false, "zero": false},
              "axis": {
                "title": null, "format": ".3f",
                "values": [0, 0.0025, 0.005, 0.0075, 0.01, 0.0125, 0.015, 0.0175, 0.02],
                "gridWidth": {"condition": {"test": "round(datum.value * 10000) % 50 === 0", "value": 3}, "value": 1.5},
                "labelExpr": "round(datum.value * 10000) % 50 === 0 ? datum.label : ''",
                "labelFontSize": {"condition": {"test": "round(datum.value * 10000) % 50 === 0", "value": 81}, "value": 0},
                "tickOpacity": {"condition": {"test": "round(datum.value * 10000) % 50 === 0", "value": 1}, "value": 0}
              }
            },
            "color": {
              "field": "g", "type": "nominal", "legend": null,
              "scale": {"domain": [0, 1, 2, 3, 4, 5, 6, 7, 8, 9], "range": ["#F3625D", "#CE8004", "#959A05", "#33AA07", "#1BB46F", "#1AB2B5", "#17A0F0", "#857BFF", "#DF4BEF", "#FB47AF"]}
            }
          }
        }
      ]
    }
  ]
}
